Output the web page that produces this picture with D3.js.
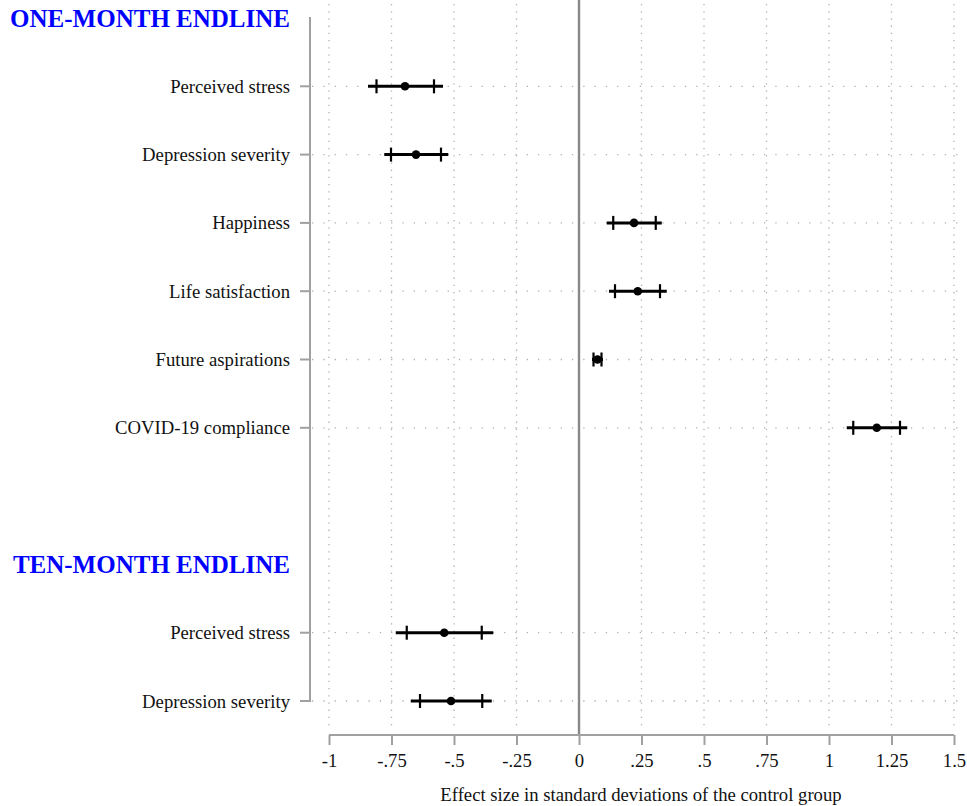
<!DOCTYPE html>
<html>
<head>
<meta charset="utf-8">
<script src="https://cdn.jsdelivr.net/npm/d3@7"></script>
<style>
  html, body { margin: 0; padding: 0; background: #fff; }
  svg { display: block; }
</style>
</head>
<body>
<div id="chart"></div>
<script>
// ---- data ----
const rows = ["h1", "ps1", "ds1", "hap1", "ls1", "fa1", "cov1", "gap", "h2", "ps2", "ds2"];
const rowLabels = ["ONE-MONTH ENDLINE", "Perceived stress", "Depression severity", "Happiness", "Life satisfaction",
  "Future aspirations", "COVID-19 compliance", "", "TEN-MONTH ENDLINE", "Perceived stress", "Depression severity"];
const headerRows = ["h1", "h2"];
const itemRows = ["ps1", "ds1", "hap1", "ls1", "fa1", "cov1", "ps2", "ds2"];
const estimate = [-0.696, -0.652, 0.220, 0.235, 0.074, 1.191, -0.539, -0.512];
const ciLow95  = [-0.844, -0.779, 0.111, 0.120, 0.052, 1.071, -0.733, -0.673];
const ciHigh95 = [-0.544, -0.523, 0.331, 0.351, 0.096, 1.313, -0.343, -0.349];
const ciLow90  = [-0.810, -0.752, 0.137, 0.144, 0.058, 1.097, -0.689, -0.636];
const ciHigh90 = [-0.580, -0.552, 0.307, 0.324, 0.090, 1.284, -0.389, -0.387];
const xTicks = [-1, -0.75, -0.5, -0.25, 0, 0.25, 0.5, 0.75, 1, 1.25, 1.5];
const xTickLabels = ["-1", "-.75", "-.5", "-.25", "0", ".25", ".5", ".75", "1", "1.25", "1.5"];
const xTitle = "Effect size in standard deviations of the control group";

// ---- layout ----
const W = 967, H = 806;
const FONT = "'Liberation Serif', 'Times New Roman', serif";
const svg = d3.select("#chart").append("svg").attr("width", W).attr("height", H)
  .style("font-family", FONT);

const x = d3.scaleLinear().domain([-1, 1.5]).range([329, 954]);
const y = d3.scalePoint().domain(rows).range([18, 701]);

const gridColor = "#b0b0b0";
const axisColor = "#a0a0a0";

// vertical dotted gridlines
svg.append("g").selectAll("line").data(xTicks).join("line")
  .attr("x1", d => x(d)).attr("x2", d => x(d))
  .attr("y1", 4).attr("y2", 730)
  .attr("stroke", gridColor).attr("stroke-width", 1.3)
  .attr("stroke-dasharray", "1.3,5.9");

// horizontal dotted gridlines at item rows
svg.append("g").selectAll("line").data(itemRows).join("line")
  .attr("x1", 312).attr("x2", W)
  .attr("y1", d => y(d)).attr("y2", d => y(d))
  .attr("stroke", gridColor).attr("stroke-width", 1.3)
  .attr("stroke-dasharray", "1.3,10");

// zero line
svg.append("line")
  .attr("x1", x(0)).attr("x2", x(0)).attr("y1", 0).attr("y2", 735)
  .attr("stroke", "#888").attr("stroke-width", 2.4);

// left axis
const yAxisG = svg.append("g").attr("transform", "translate(310,0)");
yAxisG.append("line").attr("x1", 0).attr("x2", 0).attr("y1", y("h1") - 1).attr("y2", y("ds2") + 1)
  .attr("stroke", axisColor).attr("stroke-width", 2);
yAxisG.selectAll("line.tk").data(itemRows).join("line").attr("class", "tk")
  .attr("x1", -10).attr("x2", 0).attr("y1", d => y(d)).attr("y2", d => y(d))
  .attr("stroke", axisColor).attr("stroke-width", 2);

// row labels
svg.append("g").selectAll("text").data(rows.map((r, i) => ({ r, label: rowLabels[i] })).filter(d => d.label))
  .join("text")
  .attr("x", 290)
  .attr("y", d => y(d.r))
  .attr("dy", "0.35em")
  .attr("text-anchor", "end")
  .attr("font-size", d => headerRows.includes(d.r) ? 25 : 18.7)
  .attr("font-weight", d => headerRows.includes(d.r) ? "bold" : "normal")
  .attr("fill", d => headerRows.includes(d.r) ? "#0000ff" : "#111")
  .text(d => d.label);

// bottom axis
const xAxis = d3.axisBottom(x).tickValues(xTicks)
  .tickFormat((d, i) => xTickLabels[i]).tickSize(10).tickPadding(9).tickSizeOuter(0);
const xg = svg.append("g").attr("transform", "translate(0,735)").call(xAxis);
xg.select(".domain").attr("stroke", axisColor).attr("stroke-width", 2).attr("d", `M${x(-1)},0H${x(1.5)}`);
xg.selectAll(".tick line").attr("stroke", axisColor).attr("stroke-width", 2);
xg.selectAll(".tick text").attr("font-size", 18.7).attr("fill", "#111")
  .attr("font-family", FONT);

svg.append("text").attr("x", 641).attr("y", 801).attr("text-anchor", "middle")
  .attr("font-size", 18.7).attr("fill", "#111").text(xTitle);

// estimates
const data = itemRows.map((r, i) => ({ r, est: estimate[i], lo: ciLow95[i], hi: ciHigh95[i], clo: ciLow90[i], chi: ciHigh90[i] }));
const g = svg.append("g");
g.selectAll("line.ci").data(data).join("line").attr("class", "ci")
  .attr("x1", d => x(d.lo)).attr("x2", d => x(d.hi))
  .attr("y1", d => y(d.r)).attr("y2", d => y(d.r))
  .attr("stroke", "#000").attr("stroke-width", 3);
g.selectAll("line.capl").data(data).join("line").attr("class", "capl")
  .attr("x1", d => x(d.clo)).attr("x2", d => x(d.clo))
  .attr("y1", d => y(d.r) - 7).attr("y2", d => y(d.r) + 7)
  .attr("stroke", "#000").attr("stroke-width", 2.2);
g.selectAll("line.caph").data(data).join("line").attr("class", "caph")
  .attr("x1", d => x(d.chi)).attr("x2", d => x(d.chi))
  .attr("y1", d => y(d.r) - 7).attr("y2", d => y(d.r) + 7)
  .attr("stroke", "#000").attr("stroke-width", 2.2);
g.selectAll("circle").data(data).join("circle")
  .attr("cx", d => x(d.est)).attr("cy", d => y(d.r)).attr("r", 4.3)
  .attr("fill", "#000");
</script>
</body>
</html>
